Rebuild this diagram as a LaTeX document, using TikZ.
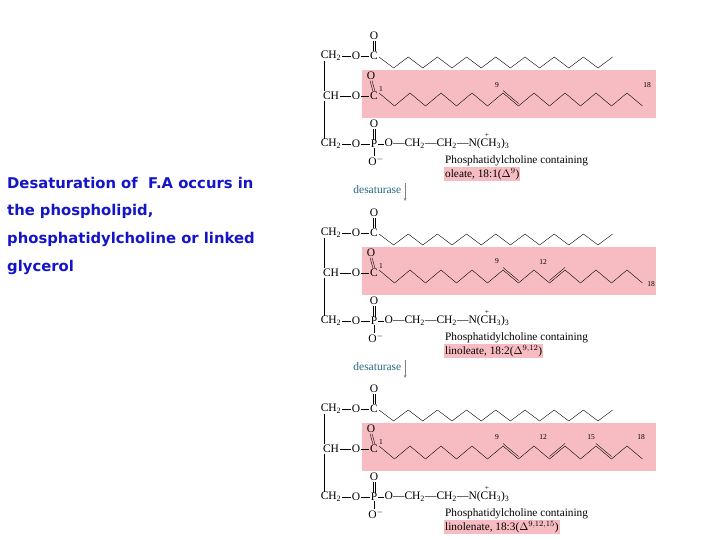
\documentclass[tikz,border=0pt]{standalone}
\usepackage{fontspec}
\setmainfont{Liberation Serif}
\newfontfamily\lefttext{DejaVu Sans}
\definecolor{pinkc}{RGB}{246,188,194}
\definecolor{tealc}{RGB}{40,105,130}
\definecolor{bluec}{RGB}{20,20,200}
\tikzset{chem/.style={inner sep=0.5pt,font=\fontsize{11.5}{12}\selectfont},
 num/.style={inner sep=0pt,font=\fontsize{7.5}{8}\selectfont},
 captxt/.style={inner sep=1pt,anchor=west,font=\fontsize{11.3}{12}\selectfont},
 lt/.style={anchor=west,inner sep=0pt,text=bluec,font=\lefttext\bfseries\fontsize{14.8}{16}\selectfont}}
\newcommand\mypanel[6]{%
\begin{scope}[yshift=#2]
\fill[pinkc] (362,70) rectangle (656,118);
\node[chem] (#1a) at (331,56) {CH\textsubscript{2}};
\node[chem] (#1b) at (356,56) {O};
\node[chem] (#1c) at (374,56) {C};
\node[chem] (#1co) at (374,36) {O};
\draw (#1a) -- (#1b) -- (#1c);
\draw ([xshift=-1pt]#1c.north) -- ([xshift=-1pt]#1co.south) ([xshift=1pt]#1c.north) -- ([xshift=1pt]#1co.south);
\foreach \i in {0,...,16}{\coordinate (#1t\i) at ({379+14.6*\i},{isodd(\i)?68:57});}
\foreach \i in {1,...,16}{\pgfmathtruncatemacro\j{\i-1}\draw (#1t\j) -- (#1t\i);}
\node[chem] (#1d) at (331,96) {CH};
\node[chem] (#1e) at (356,96) {O};
\node[chem] (#1f) at (374,96) {C};
\node[num] (#1one) at (381,89) {1};
\node[chem] (#1fo) at (371,76) {O};
\draw (#1d) -- (#1e) -- (#1f);
\draw ([xshift=-1pt]#1f.north) -- ([xshift=-1pt]#1fo.south) ([xshift=1pt]#1f.north) -- ([xshift=1pt]#1fo.south);
\foreach \i in {0,...,17}{\coordinate (#1m\i) at ({379+15.5*\i},{isodd(\i)?106:93});}
\foreach \i in {1,...,17}{\pgfmathtruncatemacro\j{\i-1}\draw (#1m\j) -- (#1m\i);}
\foreach \i in {#3}{\pgfmathtruncatemacro\j{\i-1}\draw ([yshift=2.5pt]#1m\j) -- ([yshift=2.5pt]#1m\i);}
#4
\node[chem] (#1g) at (331,144) {CH\textsubscript{2}};
\node[chem] (#1h) at (356,144) {O};
\node[chem] (#1p) at (374,144) {P};
\node[chem] (#1po) at (374,124) {O};
\node[chem] (#1pm) at (376,161) {O\textsuperscript{$-$}};
\node[chem,anchor=west] (#1r) at (384,144) {O---CH\textsubscript{2}---CH\textsubscript{2}---N(CH\textsubscript{3})\textsubscript{3}};
\node[num] (#1plus) at (487,135) {+};
\draw (#1g) -- (#1h) -- (#1p) -- (#1r);
\draw (#1p) -- (#1pm.north -| #1p);
\draw ([xshift=-1pt]#1p.north) -- ([xshift=-1pt]#1po.south) ([xshift=1pt]#1p.north) -- ([xshift=1pt]#1po.south);
\draw ([xshift=-7pt]#1a.south) -- ([xshift=-7pt]#1d.north) ([xshift=-7pt]#1d.south) -- ([xshift=-7pt]#1g.north);
\node[captxt] (#1cap1) at (444,161) {Phosphatidylcholine containing};
\node[captxt,fill=pinkc] (#1cap2) at (444,174) {#5};
#6
\end{scope}}
\begin{document}
\begin{tikzpicture}[x=1pt,y=-1pt]
\useasboundingbox (0,0) rectangle (720,540);
\fill[white] (0,0) rectangle (720,540);
\node[lt] (l1) at (7,183) {Desaturation of\ \ F.A occurs in};
\node[lt] (l2) at (7,211) {the phospholipid,};
\node[lt] (l3) at (7,239) {phosphatidylcholine or linked};
\node[lt] (l4) at (7,267) {glycerol};
\mypanel{A}{0pt}{9}{\node[num] at (497,85) {9}; \node[num] at (647,85) {18};}{oleate, 18:1($\Delta^{9}$)}{%
 \node[chem,text=tealc,anchor=east] (Ades) at (402,190) {desaturase};
 \coordinate (Aar1) at (405,183); \coordinate (Aar2) at (405,201);
 \draw[->,gray,>=stealth] (Aar1) -- (Aar2);}
\mypanel{B}{-177pt}{9,12}{\node[num] at (497,84) {9}; \node[num] at (543,85) {12}; \node[num] at (651,107) {18};}{linoleate, 18:2($\Delta^{9,12}$)}{%
 \node[chem,text=tealc,anchor=east] (Bdes) at (402,190) {desaturase};
 \coordinate (Bar1) at (405,183); \coordinate (Bar2) at (405,201);
 \draw[->,gray,>=stealth] (Bar1) -- (Bar2);}
\mypanel{C}{-353pt}{9,12,15}{\node[num] at (497,84) {9}; \node[num] at (543,84) {12}; \node[num] at (591,84) {15}; \node[num] at (641,84) {18};}{linolenate, 18:3($\Delta^{9,12,15}$)}{}
\end{tikzpicture}
\end{document}
